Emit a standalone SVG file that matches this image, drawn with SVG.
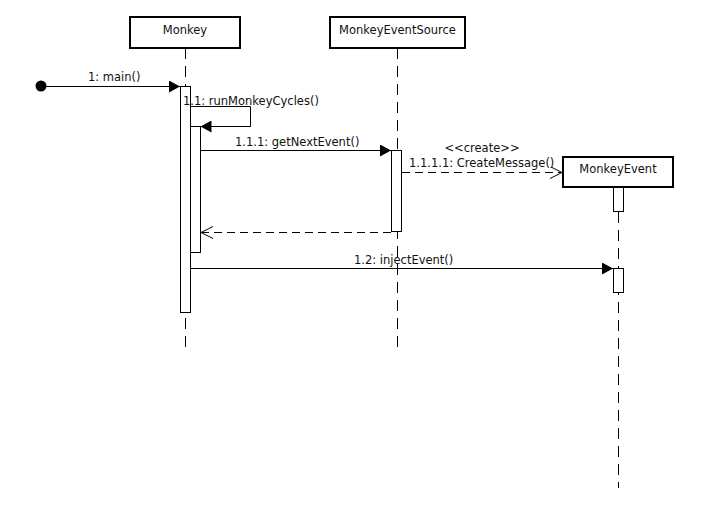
<svg xmlns="http://www.w3.org/2000/svg" width="723" height="529" viewBox="0 0 723 529">
<style>
.box{fill:#fff;stroke:#000;stroke-width:2}
.act{fill:#fff;stroke:#000;stroke-width:1}
.life{stroke:#000;stroke-width:1;stroke-dasharray:11,7;fill:none}
.msg{stroke:#000;stroke-width:1;fill:none}
.dash{stroke:#000;stroke-width:1;fill:none;stroke-dasharray:8,5}
text{font-family:"DejaVu Sans","Liberation Sans",sans-serif;font-size:11.5px;fill:#111}
.c{text-anchor:middle}
</style>
<defs>
<marker id="fill" markerWidth="12" markerHeight="12" refX="11" refY="6" orient="auto" markerUnits="userSpaceOnUse">
<path d="M0,0 L11,6 L0,12 z" fill="#000"/>
</marker>
<marker id="open" markerWidth="14" markerHeight="14" refX="12" refY="6" orient="auto" markerUnits="userSpaceOnUse">
<path d="M0,0 L12,6 L0,12" fill="none" stroke="#000" stroke-width="1"/>
</marker>
</defs>
<rect width="723" height="529" fill="#fff"/>
<g id="lifelines">
<line class="life" x1="185.5" y1="48" x2="185.5" y2="348"/>
<line class="life" x1="397.5" y1="48" x2="397.5" y2="348"/>
<line class="life" x1="618.5" y1="212" x2="618.5" y2="488"/>
</g>
<g id="node-monkey">
<rect class="box" x="130" y="17" width="110" height="31"/>
<text class="c" x="185" y="34">Monkey</text>
</g>
<g id="node-mes">
<rect class="box" x="330" y="17" width="135" height="31"/>
<text class="c" x="397.5" y="34">MonkeyEventSource</text>
</g>
<g id="node-me">
<rect class="box" x="563" y="157" width="110" height="30"/>
<text class="c" x="618" y="173">MonkeyEvent</text>
</g>
<g id="node-start">
<circle cx="41" cy="86" r="5.5" fill="#000"/>
</g>
<g id="activations">
<rect class="act" x="180.5" y="86.5" width="10" height="226"/>
<rect class="act" x="190.5" y="126.5" width="10" height="126"/>
<rect class="act" x="391.5" y="150.5" width="10" height="81"/>
<rect class="act" x="613.5" y="187.5" width="10" height="24"/>
<rect class="act" x="613.5" y="268.5" width="10" height="24"/>
</g>
<g id="connectors">
<line class="msg" x1="41" y1="86.5" x2="180" y2="86.5" marker-end="url(#fill)"/>
<path class="msg" d="M190.5,106.5 H250.5 V126.5 H200.5" marker-end="url(#fill)"/>
<line class="msg" x1="200.5" y1="150.5" x2="391" y2="150.5" marker-end="url(#fill)"/>
<line class="dash" x1="402" y1="172.5" x2="562" y2="172.5" marker-end="url(#open)"/>
<line class="dash" x1="391" y1="232.5" x2="201" y2="232.5" marker-end="url(#open)"/>
<line class="msg" x1="190.5" y1="268.5" x2="613" y2="268.5" marker-end="url(#fill)"/>
</g>
<g id="labels">
<text x="88" y="81">1: main()</text>
<text x="183" y="105">1.1: runMonkeyCycles()</text>
<text x="235" y="146">1.1.1: getNextEvent()</text>
<text class="c" x="482" y="152">&lt;&lt;create&gt;&gt;</text>
<text x="409" y="167">1.1.1.1: CreateMessage()</text>
<text x="354" y="264">1.2: injectEvent()</text>
</g>
</svg>
